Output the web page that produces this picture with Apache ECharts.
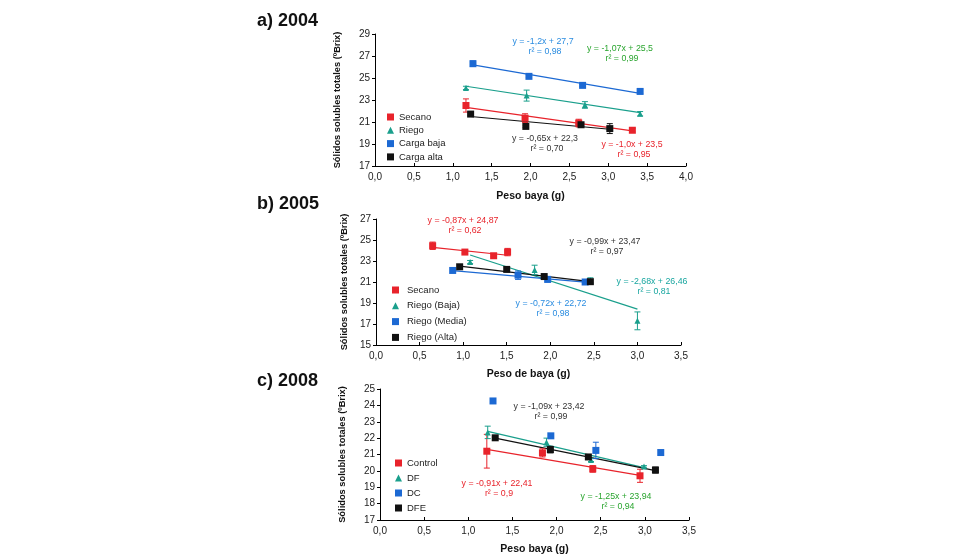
<!DOCTYPE html>
<html>
<head>
<meta charset="utf-8">
<script src="https://cdn.jsdelivr.net/npm/echarts@6/dist/echarts.min.js"></script>
<style>html,body{margin:0;padding:0;background:#fff}#c{width:980px;height:560px}</style>
</head>
<body>
<div id="c"></div>
<script>
// ---- data: [x, y, error] ----
const a_secano    = [[1.17,22.5,0.6],[1.93,21.35,0.4],[2.62,20.9,0.35],[3.31,20.25,0.15]];
const a_riego     = [[1.17,24.1,0.15],[1.95,23.4,0.5],[2.70,22.55,0.3],[3.41,21.75,0.2]];
const a_cargaBaja = [[1.26,26.3,0.25],[1.98,25.15,0.1],[2.67,24.33,0.1],[3.41,23.78,0.2]];
const a_cargaAlta = [[1.23,21.72,0.1],[1.94,20.6,0.1],[2.65,20.75,0.2],[3.02,20.4,0.45]];

const b_secano = [[0.65,24.45,0.35],[1.02,23.85,0.15],[1.35,23.5,0.1],[1.51,23.85,0.35]];
const b_baja   = [[1.08,22.9,0.15],[1.82,22.15,0.45],[2.46,21.15,0.25],[3.0,17.3,0.85]];
const b_media  = [[0.88,22.1,0],[1.63,21.65,0.4],[1.97,21.25,0.25],[2.40,21.0,0]];
const b_alta   = [[0.96,22.45,0],[1.50,22.2,0],[1.93,21.52,0],[2.46,21.03,0]];

const c_control = [[1.21,21.2,1.03],[1.84,21.1,0.25],[2.41,20.12,0.2],[2.945,19.7,0.4]];
const c_df      = [[1.22,22.35,0.38],[1.886,21.75,0.25],[2.39,20.67,0.1],[2.99,20.27,0.05]];
const c_dc      = [[1.28,24.27,0],[1.935,22.14,0],[2.445,21.25,0.5],[3.18,21.12,0]];
const c_dfe     = [[1.305,22.02,0],[1.93,21.3,0.2],[2.36,20.85,0],[3.12,20.05,0.18]];

// ---- trend line end points ----
const a_secanoFit = [[1.17,22.33],[3.31,20.19]];
const a_riegoFit  = [[1.17,24.25],[3.41,21.85]];
const a_bajaFit   = [[1.26,26.19],[3.41,23.61]];
const a_altaFit   = [[1.23,21.5],[3.02,20.34]];
const b_secanoFit = [[0.65,24.3],[1.51,23.55]];
const b_bajaFit   = [[1.08,23.57],[3.0,18.42]];
const b_mediaFit  = [[0.88,22.09],[2.40,20.99]];
const b_altaFit   = [[0.96,22.52],[2.46,21.03]];
const c_controlFit = [[1.21,21.31],[2.945,19.73]];
const c_dfFit      = [[1.22,22.41],[2.99,20.2]];
const c_dfeFit     = [[1.305,22.0],[3.12,20.02]];

// ---- labels ----
const titles = ['a) 2004','b) 2005','c) 2008'];
const xNames = ['Peso baya (g)','Peso de baya (g)','Peso baya (g)'];
const yName = 'Sólidos solubles totales (ºBrix)';
const legendA = ['Secano','Riego','Carga baja','Carga alta'];
const legendB = ['Secano','Riego (Baja)','Riego (Media)','Riego (Alta)'];
const legendC = ['Control','DF','DC','DFE'];
const eqA = [['y = -1,2x + 27,7','r² = 0,98'],['y = -1,07x + 25,5','r² = 0,99'],['y = -0,65x + 22,3','r² = 0,70'],['y = -1,0x + 23,5','r² = 0,95']];
const eqB = [['y = -0,87x + 24,87','r² = 0,62'],['y = -0,99x + 23,47','r² = 0,97'],['y = -2,68x + 26,46','r² = 0,81'],['y = -0,72x + 22,72','r² = 0,98']];
const eqC = [['y = -1,09x + 23,42','r² = 0,99'],['y = -0,91x + 22,41','r² = 0,9'],['y = -1,25x + 23,94','r² = 0,94']];

// ---- styling ----
const RED = '#e8232b', BLUE = '#1c69d3', TEAL = '#1a9f8c', BLACK = '#111111';
const BLUE_T = '#2a8ce0', GREEN_T = '#2aa52f', TEAL_T = '#19a6a0', DARK_T = '#333333';
const FONT = 'Arial, "Liberation Sans", sans-serif';

const grids = [
  {left:375, top:34, width:311, height:132},
  {left:376, top:219, width:305, height:126},
  {left:380, top:389, width:309, height:131}
];
const xMax = [4, 3.5, 3.5];
const yRange = [[17,29,2],[15,27,2],[17,25,1]];
const yNameGap = [33, 27, 33];
const xNameGap = [25, 24, 24];

const fmt = v => v.toFixed(1).replace('.', ',');

const xAxis = grids.map((g,i) => ({
  gridIndex:i, type:'value', min:0, max:xMax[i], interval:0.5,
  name:xNames[i], nameLocation:'middle', nameGap:xNameGap[i],
  nameTextStyle:{fontFamily:FONT, fontWeight:'bold', fontSize:10.5, color:'#111'},
  axisLine:{lineStyle:{color:'#000', width:1}},
  axisTick:{inside:true, length:3, lineStyle:{color:'#000'}},
  axisLabel:{formatter:fmt, fontFamily:FONT, fontSize:10, color:'#222', margin:6},
  splitLine:{show:false}
}));
const yAxis = grids.map((g,i) => ({
  gridIndex:i, type:'value', min:yRange[i][0], max:yRange[i][1], interval:yRange[i][2],
  name:yName, nameLocation:'middle', nameRotate:90, nameGap:yNameGap[i],
  nameTextStyle:{fontFamily:FONT, fontWeight:'bold', fontSize:9.3, color:'#111'},
  axisLine:{show:true, lineStyle:{color:'#000', width:1}},
  axisTick:{show:true, length:3, lineStyle:{color:'#000'}},
  axisLabel:{fontFamily:FONT, fontSize:10, color:'#222', margin:5},
  splitLine:{show:false}
}));

const series = [];
function addGroup(gi, name, pts, fit, color, symbol){
  if (fit) series.push({
    type:'line', name:name+' fit', xAxisIndex:gi, yAxisIndex:gi,
    data:fit, showSymbol:false, symbol:'none', silent:true,
    lineStyle:{color:color, width:1.2}, z:2
  });
  series.push({
    type:'custom', name:name+' err', xAxisIndex:gi, yAxisIndex:gi, silent:true, z:3,
    data:pts.filter(p=>p[2]>0).map(p=>[p[0], p[1]-p[2], p[1]+p[2]]),
    encode:{x:0, y:[1,2]},
    renderItem:function(params, api){
      const lo = api.coord([api.value(0), api.value(1)]);
      const hi = api.coord([api.value(0), api.value(2)]);
      const w = 3, st = {stroke:color, lineWidth:1};
      return {type:'group', children:[
        {type:'line', shape:{x1:lo[0],y1:lo[1],x2:hi[0],y2:hi[1]}, style:st},
        {type:'line', shape:{x1:lo[0]-w,y1:lo[1],x2:lo[0]+w,y2:lo[1]}, style:st},
        {type:'line', shape:{x1:hi[0]-w,y1:hi[1],x2:hi[0]+w,y2:hi[1]}, style:st}
      ]};
    }
  });
  series.push({
    type:'scatter', name:name, xAxisIndex:gi, yAxisIndex:gi, z:4,
    data:pts.map(p=>[p[0], p[1]]), symbol:symbol,
    symbolSize: symbol==='triangle' ? 6 : 7,
    itemStyle:{color:color, opacity:1}
  });
}
addGroup(0, legendA[0], a_secano, a_secanoFit, RED, 'rect');
addGroup(0, legendA[1], a_riego, a_riegoFit, TEAL, 'triangle');
addGroup(0, legendA[2], a_cargaBaja, a_bajaFit, BLUE, 'rect');
addGroup(0, legendA[3], a_cargaAlta, a_altaFit, BLACK, 'rect');
addGroup(1, legendB[0], b_secano, b_secanoFit, RED, 'rect');
addGroup(1, legendB[1], b_baja, b_bajaFit, TEAL, 'triangle');
addGroup(1, legendB[2], b_media, b_mediaFit, BLUE, 'rect');
addGroup(1, legendB[3], b_alta, b_altaFit, BLACK, 'rect');
addGroup(2, legendC[0], c_control, c_controlFit, RED, 'rect');
addGroup(2, legendC[1], c_df, c_dfFit, TEAL, 'triangle');
addGroup(2, legendC[2], c_dc, null, BLUE, 'rect');
addGroup(2, legendC[3], c_dfe, c_dfeFit, BLACK, 'rect');

function legend(data, left, top, gap, pad){
  return {data:data, orient:'vertical', left:left, top:top, padding:0,
    itemWidth:7, itemHeight:7, itemGap:gap, selectedMode:false,
    textStyle:{fontFamily:FONT, fontSize:9.5, lineHeight:10, color:'#222', padding:[0,0,0,pad]}};
}

// annotation placement (layout only)
const eqPos = {
  a:[[543,42,BLUE_T],[620,49,GREEN_T],[545,139,DARK_T],[632,145,RED]],
  b:[[463,221,RED],[605,242,DARK_T],[652,282,TEAL_T],[551,304,BLUE_T]],
  c:[[549,407,DARK_T],[497,484,RED],[616,497,GREEN_T]]
};
const graphic = [];
function addEq(eqs, pos){
  eqs.forEach((e,i)=>{
    const p = pos[i];
    [0,1].forEach(k=>{
      graphic.push({type:'text', x:p[0] + (k? 2:0), y:p[1] + k*10, silent:true,
        style:{text:e[k], fill:p[2], font:'8.8px '+FONT,
          textAlign:'center', align:'center', textVerticalAlign:'middle', verticalAlign:'middle'}});
    });
  });
}
addEq(eqA, eqPos.a); addEq(eqB, eqPos.b); addEq(eqC, eqPos.c);

const titleTops = [12, 195, 372];
const option = {
  backgroundColor:'#fff',
  animation:false,
  title: titles.map((t,i)=>({text:t, left:257, top:titleTops[i], padding:0,
    textStyle:{fontFamily:FONT, fontWeight:'bold', fontSize:18, color:'#111'}})),
  legend:[
    legend(legendA, 387, 112, 3.3, 0),
    legend(legendB, 392, 285, 5.8, 3),
    legend(legendC, 395, 458, 5, 0)
  ],
  grid:grids,
  xAxis:xAxis,
  yAxis:yAxis,
  series:series,
  graphic:graphic
};
const chart = echarts.init(document.getElementById('c'), null, {renderer:'canvas'});
chart.setOption(option);
</script>
</body>
</html>
